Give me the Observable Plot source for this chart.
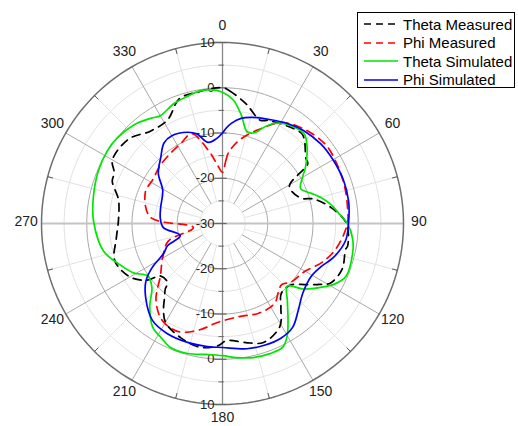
<!DOCTYPE html>
<html>
<head>
<meta charset="utf-8">
<script src="https://cdn.jsdelivr.net/npm/d3@7"></script>
<script src="https://cdn.jsdelivr.net/npm/@observablehq/plot@0.6"></script>
<style>
  html, body { margin: 0; padding: 0; background: #fff; }
  body { font-family: "Liberation Sans", Arial, sans-serif; }
  #wrap { position: relative; width: 518px; height: 426px; overflow: hidden; }
  #legend { position: absolute; left: 357px; top: 12px; width: 158px; height: 76px;
            border: 1px solid #000; background: #fff; box-sizing: border-box; padding-top: 2px; }
  .row { display: flex; align-items: center; height: 18.5px; font-size: 15px; color: #000; white-space: nowrap; }
  .row svg { margin-left: 5px; margin-right: 4px; }
</style>
</head>
<body>
<div id="wrap">
  <div id="chart"></div>
  <div id="legend"></div>
</div>
<script>
// ---------------- data ----------------
const seriesNames = ["Theta Measured", "Phi Measured", "Theta Simulated", "Phi Simulated"];

const thetaMeasuredAngle = [0,3,11,13,20,24,33,41,44,52,55,61,72,75,82,90,100,102,111,119,122,126,132,140,145,151,161,169,178,182,190,200,210,215,218,221,223,230,233,240,251,262,272,283,291,295,300,312,322,332,341,350,355];
const thetaMeasuredDb    = [0.0,-0.6,-3.0,-3.7,-5.7,-5.1,-4.2,-3.5,-4.0,-6.6,-7.0,-13.1,-11.8,-9.1,-5.6,-2.6,-1.9,-2.2,-1.7,-2.8,-4.6,-7.0,-9.7,-9.8,-7.5,-3.9,-2.2,-3.2,-4.1,-3.0,-2.2,-3.1,-4.8,-7.3,-9.2,-10.7,-12.2,-12.0,-9.2,-6.4,-4.8,-6.3,-7.0,-6.4,-3.9,-3.6,-1.9,-2.1,-4.1,-4.1,-0.8,-0.4,-0.1];

const phiMeasuredAngle = [0,3,5,12,22,31,42,53,62,73,83,90,102,111,121,130,136,141,147,158,169,183,192,202,212,221,230,240,252,262,275,292,302,313,323,333,341,350,355];
const phiMeasuredDb    = [-18.7,-16.1,-14.2,-11.0,-7.4,-4.0,-2.3,-1.3,-1.5,-1.8,-2.15,-2.4,-4.2,-6.3,-9.1,-10.0,-11.2,-10.4,-8.9,-8.6,-9.1,-8.1,-6.0,-4.2,-4.8,-7.6,-12.1,-14.7,-17.4,-23.5,-14.0,-11.6,-11.8,-11.2,-10.7,-10.0,-9.0,-14.1,-17.0];

const thetaSimulatedAngle = [0,5,10,15,20,23,27,31,35,40,43,49,56,60,66,71,75,80,85,90,97,103,113,118,123,129,134,140,146,150,154,160,167,174,180,187,195,203,208,214,221,228,235,241,248,257,271,281,293,302,309,318,326,330,338,345,350,355];
const thetaSimulatedDb    = [-1.0,-2.6,-5.8,-9.0,-8.6,-7.0,-5.2,-4.2,-3.6,-3.2,-3.3,-5.2,-7.9,-9.6,-11.1,-9.4,-7.6,-5.7,-4.2,-2.4,-1.0,-0.5,-0.3,-1.7,-4.1,-7.0,-10.1,-7.7,-4.1,-1.4,0.4,0.6,0.4,-0.2,-0.8,-0.85,-0.25,-0.3,-1.3,-2.4,-5.5,-9.0,-9.8,-7.5,-5.6,-3.0,-1.5,-0.9,-0.2,0.1,0.0,-0.7,-1.9,-2.5,-1.4,-0.8,-0.3,-0.3];

const phiSimulatedAngle = [0,2,5,10,16,25,33,41,51,60,70,80,90,98,107,114,121,131,139,146,153,161,169,180,187,196,207,216,226,233,238,243,248,254,266,275,284,299,308,317,324,330,339,344,350,356];
const phiSimulatedDb    = [-10.0,-9.0,-7.8,-6.4,-5.6,-4.7,-3.65,-2.75,-2.05,-1.8,-1.6,-1.7,-2.15,-2.55,-4.35,-6.3,-7.2,-6.5,-4.5,-2.3,-1.55,-1.55,-1.8,-2.6,-2.6,-2.6,-2.8,-3.6,-6.4,-8.8,-11.7,-15.4,-16.9,-20.3,-16.9,-16.2,-15.9,-14.9,-12.0,-10.0,-8.0,-7.6,-8.4,-9.4,-11.8,-11.2];

const radialTicks = [-30, -20, -10, 0, 10];
const radialMinorTicks = [-25, -15, -5, 5];
const angleTicks = [0, 30, 60, 90, 120, 150, 180, 210, 240, 270, 300, 330];
const angleMinorTicks = [15, 45, 75, 105, 135, 165, 195, 225, 255, 285, 315, 345];

// ---------------- geometry helpers ----------------
const rMin = -30, rMax = 10;
const rad = a => a * Math.PI / 180;
const px = (a, v) => (v - rMin) * Math.sin(rad(a));
const py = (a, v) => (v - rMin) * Math.cos(rad(a));

const seriesData = [
  [thetaMeasuredAngle, thetaMeasuredDb],
  [phiMeasuredAngle, phiMeasuredDb],
  [thetaSimulatedAngle, thetaSimulatedDb],
  [phiSimulatedAngle, phiSimulatedDb]
].map(([A, V], i) => A.map((a, j) => ({series: seriesNames[i], a, v: V[j], x: px(a, V[j]), y: py(a, V[j])})));

const seriesStyle = [
  {stroke: "#000000", dash: "8,6"},
  {stroke: "#ff0000", dash: "8,6"},
  {stroke: "#00e600", dash: null},
  {stroke: "#0000ff", dash: null}
];

function ring(level) {
  return d3.range(0, 361, 2).map(a => ({level, x: px(a, level), y: py(a, level)}));
}
const minorRings = radialMinorTicks.flatMap(ring);
const majorRings = radialTicks.filter(v => v > rMin && v < rMax).flatMap(ring);
const outerRing = ring(rMax);

const labelR = 43.4 + rMin; // position of angle labels (in dB units beyond outer ring)

const topLabels = radialTicks.map(v => ({v, y: v - rMin}));
const bottomLabels = radialTicks.filter(v => v > rMin).map(v => ({v, y: -(v - rMin)}));
const allMajorTickPos = [...radialTicks.map(v => v - rMin), ...radialTicks.filter(v => v > rMin).map(v => -(v - rMin))];
const allMinorTickPos = [...radialMinorTicks.map(v => v - rMin), ...radialMinorTicks.map(v => -(v - rMin))];

const marks = [
  // minor rings & spokes
  Plot.line(minorRings, {x: "x", y: "y", z: "level", stroke: "#e2e2e2", strokeWidth: 1}),
  Plot.link(angleMinorTicks, {x1: a => px(a, -25), y1: a => py(a, -25), x2: a => px(a, rMax), y2: a => py(a, rMax), stroke: "#e2e2e2", strokeWidth: 1}),
  // major rings & spokes
  Plot.line(majorRings, {x: "x", y: "y", z: "level", stroke: "#a8a8a8", strokeWidth: 1}),
  Plot.link(angleTicks.filter(a => a % 90 !== 0), {x1: a => px(a, -25), y1: a => py(a, -25), x2: a => px(a, rMax), y2: a => py(a, rMax), stroke: "#a8a8a8", strokeWidth: 1}),
  // horizontal 90-270 line
  Plot.link([0], {x1: px(270, rMax), y1: py(270, rMax), x2: px(90, rMax), y2: py(90, rMax), stroke: "#c4c4c4", strokeWidth: 2}),
  // outer ring
  Plot.line(outerRing, {x: "x", y: "y", stroke: "#6e6e6e", strokeWidth: 1.5}),
  // outer ticks
  Plot.link(angleMinorTicks, {x1: a => px(a, rMax), y1: a => py(a, rMax), x2: a => px(a, rMax - 1.2), y2: a => py(a, rMax - 1.2), stroke: "#555", strokeWidth: 1}),
  // vertical radial axis
  Plot.link([0], {x1: 0, y1: rMax - rMin, x2: 0, y2: -(rMax - rMin), stroke: "#888", strokeWidth: 1.3}),
  Plot.link(allMajorTickPos, {x1: -1.8, x2: 0.9, y1: d => d, y2: d => d, stroke: "#666", strokeWidth: 1.2}),
  Plot.link(allMinorTickPos, {x1: -0.9, x2: 0.3, y1: d => d, y2: d => d, stroke: "#666", strokeWidth: 1}),
  // radial labels
  Plot.text(topLabels, {x: 0, y: "y", text: d => String(d.v), textAnchor: "end", dx: -8, fontSize: 13, fill: "#222"}),
  Plot.text(bottomLabels, {x: 0, y: "y", text: d => String(d.v), textAnchor: "end", dx: -8, fontSize: 13, fill: "#222"}),
  // angle labels
  Plot.text(angleTicks, {x: a => px(a, labelR), y: a => py(a, labelR), text: a => String(a), fontSize: 14, fill: "#222", lineAnchor: "middle", dy: -2}),
  // data curves
  ...seriesData.map((rows, i) => Plot.line(rows, {
    x: "x", y: "y",
    stroke: seriesStyle[i].stroke,
    strokeWidth: 1.7,
    strokeDasharray: seriesStyle[i].dash || undefined,
    curve: "catmull-rom-closed"
  }))
];

const chart = Plot.plot({
  width: 518,
  height: 426,
  marginLeft: 41,
  marginRight: 115,
  marginTop: 42,
  marginBottom: 22,
  x: {domain: [-(rMax - rMin), rMax - rMin], axis: null},
  y: {domain: [-(rMax - rMin), rMax - rMin], axis: null},
  style: {fontFamily: "'Liberation Sans', Arial, sans-serif", background: "transparent", overflow: "visible"},
  marks
});
document.getElementById("chart").append(chart);

// legend
const legend = document.getElementById("legend");
seriesNames.forEach((name, i) => {
  const row = document.createElement("div");
  row.className = "row";
  const s = seriesStyle[i];
  row.innerHTML = `<svg width="36" height="10"><line x1="1" y1="5" x2="35" y2="5" stroke="${s.stroke}" stroke-width="1.7" ${s.dash ? `stroke-dasharray="7,5"` : ""}/></svg><span>${name}</span>`;
  legend.append(row);
});
</script>
</body>
</html>
